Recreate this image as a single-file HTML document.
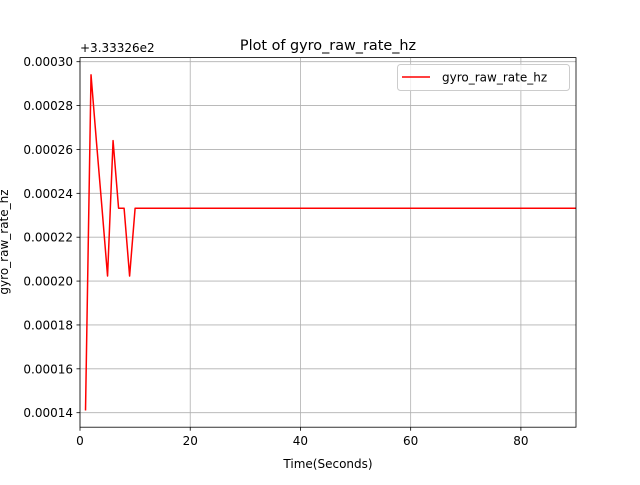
<!DOCTYPE html>
<html><head><meta charset="utf-8"><style>
body{margin:0;background:#fff;font-family:"Liberation Sans","DejaVu Sans",sans-serif}
svg text{font-family:"DejaVu Sans","Liberation Sans",sans-serif}
</style></head><body>
<svg id="chart" width="640" height="480" xmlns="http://www.w3.org/2000/svg">
<rect width="640" height="480" fill="#fff"/>
<g id="grid"></g>
<g id="plot"></g>
<rect x="80" y="57.6" width="496" height="369.6" fill="none" stroke="#000" stroke-width="0.8"/>
<g id="ticks"></g>
<text x="328" y="50" text-anchor="middle" font-size="14.4">Plot of gyro_raw_rate_hz</text>
<text x="328" y="468" text-anchor="middle" font-size="12">Time(Seconds)</text>
<text transform="translate(8,242) rotate(-90)" text-anchor="middle" font-size="12">gyro_raw_rate_hz</text>
<text x="80" y="52" font-size="12">+3.33326e2</text>
<g>
<rect x="397.5" y="64.5" width="172" height="26" rx="3" fill="#fff" fill-opacity="0.8" stroke="#ccc"/>
<line x1="402" y1="77" x2="430" y2="77" stroke="red" stroke-width="1.5"/>
<text x="442" y="81.5" font-size="12">gyro_raw_rate_hz</text>
</g>
</svg>
<script>
const xs=[1,2,3,4,5,6,7,8,9,10,90];
const ys=[0.000141,0.000294,0.000263,0.000233,0.0002023,0.000264,0.0002332,0.0002332,0.0002023,0.0002332,0.0002332];
const xTicks=[0,20,40,60,80];
const yTicks=[0.00014,0.00016,0.00018,0.0002,0.00022,0.00024,0.00026,0.00028,0.0003];
const yTickLabels=["0.00014","0.00016","0.00018","0.00020","0.00022","0.00024","0.00026","0.00028","0.00030"];
const NS="http://www.w3.org/2000/svg";
const X=v=>80+v/90*496;
const Y=v=>412.7-(v-0.00014)/0.00016*351;
function mk(t,a,p){const e=document.createElementNS(NS,t);for(const k in a)e.setAttribute(k,a[k]);p.appendChild(e);return e;}
const g=document.getElementById('grid'),tk=document.getElementById('ticks'),pl=document.getElementById('plot');
xTicks.forEach(v=>{
 const l=mk('line',{x1:X(v),x2:X(v),y1:57.6,y2:427.2,stroke:'#b0b0b0','stroke-width':0.8},g);
 
 
 const t=mk('line',{x1:X(v),x2:X(v),y1:427.2,y2:430.7,stroke:'#000','stroke-width':0.8},tk);
 
 
 const s=mk('text',{x:X(v),y:445,'text-anchor':'middle','font-size':12},tk);s.textContent=v;
 
 
});
yTicks.forEach((v,i)=>{
 const l=mk('line',{x1:80,x2:576,y1:Y(v),y2:Y(v),stroke:'#b0b0b0','stroke-width':0.8},g);
 
 
 const t=mk('line',{x1:76.5,x2:80,y1:Y(v),y2:Y(v),stroke:'#000','stroke-width':0.8},tk);
 
 
 const s=mk('text',{x:73,y:Y(v)+4.5,'text-anchor':'end','font-size':12},tk);s.textContent=yTickLabels[i];
 
 
});
const line=mk('polyline',{points:xs.map((x,i)=>X(x)+','+Y(ys[i])).join(' '),fill:'none',stroke:'red','stroke-width':1.5,'stroke-linejoin':'round'},pl);


</script>
</body></html>
